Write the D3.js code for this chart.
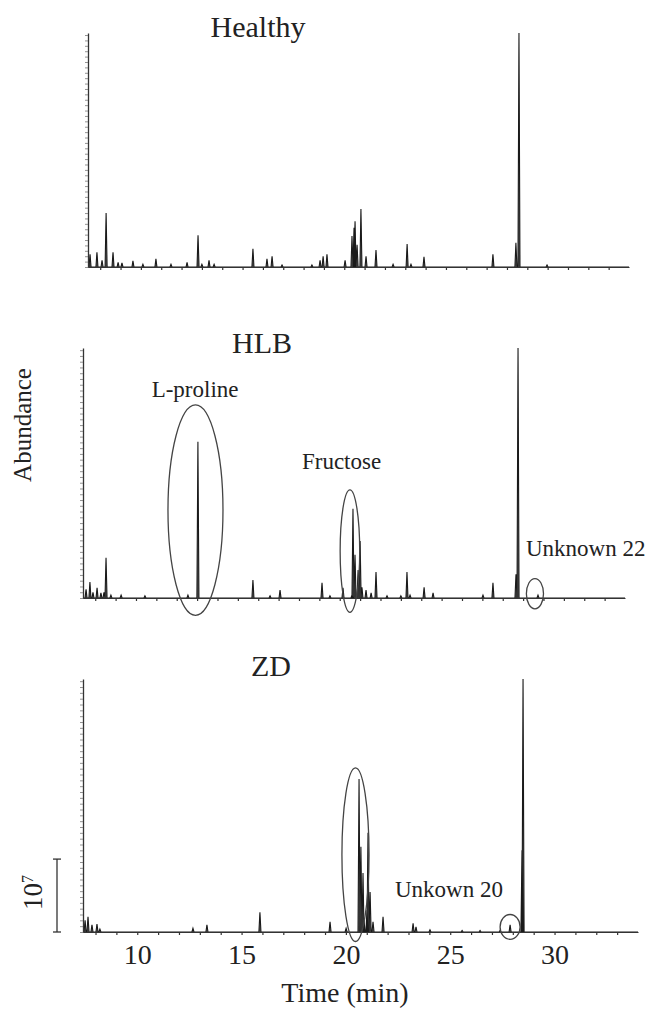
<!DOCTYPE html>
<html>
<head>
<meta charset="utf-8">
<script src="https://cdn.jsdelivr.net/npm/d3@7"></script>
<style>
  body { margin: 0; background: #fff; }
</style>
</head>
<body>
<svg id="chart"></svg>
<script>
// retention time (min), abundance (x 10^7)
var healthyPeaks = [
  [7.50, 0.19], [7.84, 0.22], [8.09, 0.10], [8.29, 0.80], [8.63, 0.22], [8.88, 0.07],
  [9.07, 0.06], [9.61, 0.09], [10.10, 0.04], [10.74, 0.12], [11.48, 0.04], [12.27, 0.07],
  [12.81, 0.47], [13.00, 0.04], [13.35, 0.10], [13.60, 0.04], [15.51, 0.27], [16.20, 0.12],
  [16.45, 0.16], [16.94, 0.03], [18.41, 0.03], [18.81, 0.10], [18.96, 0.16], [19.15, 0.19],
  [20.04, 0.10], [20.38, 0.46], [20.48, 0.58], [20.53, 0.68], [20.63, 0.33], [20.82, 0.86],
  [21.07, 0.16], [21.56, 0.25], [22.40, 0.04], [23.09, 0.34], [23.28, 0.04], [23.92, 0.15],
  [27.31, 0.19], [28.44, 0.36], [28.59, 3.47], [29.97, 0.03]
];
var hlbPeaks = [
  [7.55, 0.12], [7.74, 0.22], [7.89, 0.08], [8.09, 0.14], [8.28, 0.07], [8.43, 0.08],
  [8.53, 0.56], [8.77, 0.04], [9.27, 0.04], [10.44, 0.03], [12.55, 0.04], [13.04, 2.17],
  [15.74, 0.25], [16.58, 0.03], [17.07, 0.11], [19.13, 0.21], [19.52, 0.03], [20.16, 0.14],
  [20.60, 0.04], [20.65, 1.24], [20.75, 0.60], [20.90, 0.39], [21.00, 0.79], [21.09, 0.15],
  [21.29, 0.11], [21.54, 0.07], [21.78, 0.36], [22.32, 0.03], [23.00, 0.03], [23.30, 0.36],
  [23.45, 0.04], [24.14, 0.15], [24.58, 0.07], [27.03, 0.04], [27.52, 0.21], [28.65, 0.33],
  [28.75, 3.47], [29.73, 0.04]
];
var zdPeaks = [
  [7.50, 0.16], [7.64, 0.21], [7.83, 0.10], [8.07, 0.11], [8.21, 0.04], [12.67, 0.05],
  [13.34, 0.10], [15.88, 0.27], [19.24, 0.14], [20.01, 0.05], [20.63, 2.10], [20.72, 1.17],
  [20.82, 0.81], [20.87, 0.16], [21.01, 0.30], [21.06, 1.36], [21.16, 0.55], [21.30, 0.14],
  [21.78, 0.21], [23.22, 0.12], [23.36, 0.07], [24.03, 0.03], [25.57, 0.02], [26.43, 0.02],
  [27.39, 0.02], [27.87, 0.10], [28.44, 1.12], [28.49, 3.47]
];

var timeDomain = [7.4, 34.0];
var abundanceMax = 3.47;
var timeLabels = [10, 15, 20, 25, 30];

// [label, time, abundance, anchor]
var hlbLabels = [["L-proline", 12.9, 2.79, "middle"], ["Fructose", 20.09, 1.79, "middle"], ["Unknown 22", 29.14, 0.58, "start"]];
var zdLabels = [["Unkown 20", 22.35, 0.48, "start"]];
// [center time, center abundance, radius time, radius abundance]
var hlbCircles = [[12.92, 1.22, 1.35, 1.46], [20.50, 0.65, 0.48, 0.85], [29.58, 0.06, 0.42, 0.21]];
var zdCircles = [[20.46, 1.06, 0.65, 1.19], [27.87, 0.07, 0.48, 0.17]];

var serif = "'Liberation Serif', 'Times New Roman', serif";

var svg = d3.select("#chart").attr("width", 650).attr("height", 1017);

var panels = [
  { title: "Healthy", titleX: 258, titleY: 37, peaks: healthyPeaks, left: 88, right: 629, top: 33, bottom: 267, labels: [], circles: [] },
  { title: "HLB", titleX: 262, titleY: 353, peaks: hlbPeaks, left: 83, right: 625, top: 348, bottom: 598, labels: hlbLabels, circles: hlbCircles },
  { title: "ZD", titleX: 271, titleY: 676, peaks: zdPeaks, left: 83, right: 638, top: 679, bottom: 932, labels: zdLabels, circles: zdCircles, showTime: true }
];

var halfWidth = 0.05;

panels.forEach(function(p) {
  var x = d3.scaleLinear().domain(timeDomain).range([p.left, p.right]);
  var y = d3.scaleLinear().domain([0, abundanceMax]).range([p.bottom, p.top]);
  p.x = x; p.y = y;

  var g = svg.append("g");

  // chromatogram
  var pts = [[timeDomain[0], 0]];
  p.peaks.forEach(function(d) {
    pts.push([d[0] - halfWidth, 0], [d[0], d[1]], [d[0] + halfWidth, 0]);
  });
  pts.push([timeDomain[1], 0]);
  var line = d3.line()
    .x(function(d) { return x(d[0]); })
    .y(function(d) { return y(d[1]); });
  g.append("path")
    .datum(pts)
    .attr("fill", "#555")
    .attr("stroke", "#1a1a1a")
    .attr("stroke-width", 1.1)
    .attr("d", line);

  // x axis
  var xAxis = g.append("g")
    .attr("transform", "translate(0," + p.bottom + ")")
    .call(d3.axisBottom(x)
      .tickValues(d3.range(8, 34))
      .tickSize(3)
      .tickSizeOuter(0)
      .tickPadding(9)
      .tickFormat(function(d) { return p.showTime && timeLabels.indexOf(d) >= 0 ? d : ""; }));
  xAxis.selectAll("path, line").attr("stroke", "#333").attr("stroke-width", 1.2);
  xAxis.selectAll("text").style("font-size", "28px").style("font-family", serif).attr("fill", "#222");

  // y axis
  var yAxis = g.append("g")
    .attr("transform", "translate(" + p.left + ",0)")
    .call(d3.axisLeft(y)
      .tickValues(d3.range(0, abundanceMax, 0.08))
      .tickSize(3)
      .tickSizeOuter(0)
      .tickFormat(""));
  yAxis.selectAll("path").attr("stroke", "#333").attr("stroke-width", 1.3);
  yAxis.selectAll("line").attr("stroke", "#777").attr("stroke-width", 0.8);

  // title
  g.append("text")
    .attr("x", p.titleX).attr("y", p.titleY)
    .attr("text-anchor", "middle")
    .style("font-family", serif)
    .style("font-size", "30px")
    .attr("fill", "#222")
    .text(p.title);

  // annotations
  g.selectAll(".ring").data(p.circles).enter().append("ellipse")
    .attr("cx", function(d) { return x(d[0]); })
    .attr("cy", function(d) { return y(d[1]); })
    .attr("rx", function(d) { return x(d[0] + d[2]) - x(d[0]); })
    .attr("ry", function(d) { return y(0) - y(d[3]); })
    .attr("fill", "none")
    .attr("stroke", "#444")
    .attr("stroke-width", 1.3);

  g.selectAll(".lbl").data(p.labels).enter().append("text")
    .attr("x", function(d) { return x(d[1]); })
    .attr("y", function(d) { return y(d[2]); })
    .attr("text-anchor", function(d) { return d[3]; })
    .style("font-family", serif)
    .style("font-size", "23px")
    .attr("fill", "#222")
    .text(function(d) { return d[0]; });
});

// scale bar 10^7 on the ZD panel
var zd = panels[2];
var barX = 57;
var bar = svg.append("g").attr("stroke", "#333").attr("stroke-width", 1.3);
bar.append("line").attr("x1", barX).attr("x2", barX).attr("y1", zd.y(0)).attr("y2", zd.y(1));
bar.append("line").attr("x1", barX - 4).attr("x2", barX + 4).attr("y1", zd.y(0)).attr("y2", zd.y(0));
bar.append("line").attr("x1", barX - 4).attr("x2", barX + 4).attr("y1", zd.y(1)).attr("y2", zd.y(1));

var barText = svg.append("text")
  .attr("transform", "translate(42," + (zd.y(0.5) - 3) + ") rotate(-90)")
  .attr("text-anchor", "middle")
  .style("font-family", serif)
  .style("font-size", "27px")
  .attr("fill", "#222");
barText.append("tspan").text("10");
barText.append("tspan").attr("dy", "-0.55em").style("font-size", "16px").text("7");

// axis titles
svg.append("text")
  .attr("transform", "translate(31,425) rotate(-90)")
  .attr("text-anchor", "middle")
  .style("font-family", serif)
  .style("font-size", "25px")
  .attr("fill", "#222")
  .text("Abundance");

svg.append("text")
  .attr("x", 345).attr("y", 1002)
  .attr("text-anchor", "middle")
  .style("font-family", serif)
  .style("font-size", "28px")
  .attr("fill", "#222")
  .text("Time (min)");
</script>
</body>
</html>
